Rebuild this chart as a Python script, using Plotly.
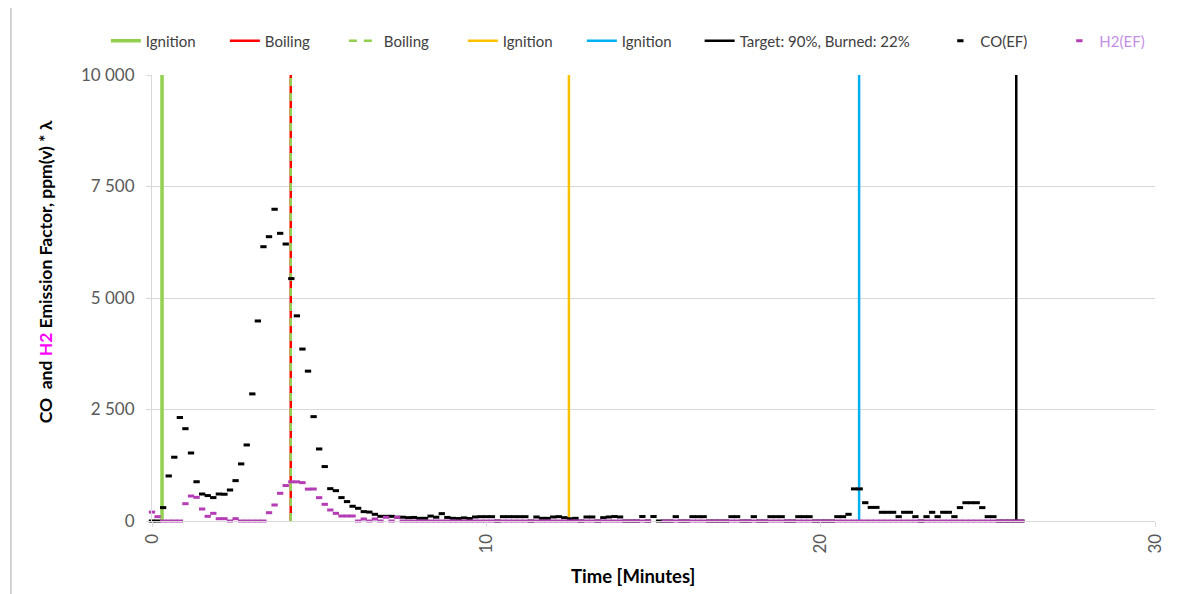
import plotly.graph_objects as go

# ---- data ----
time_s = [0, 10, 20, 30, 40, 50, 60, 70, 80, 90, 100, 110, 120, 130, 140, 150, 160, 170, 180, 190,
          200, 210, 220, 230, 240, 250, 260, 270, 280, 290, 300, 310, 320, 330, 340, 350, 360, 370, 380, 390,
          400, 410, 420, 430, 440, 450, 460, 470, 480, 490, 500, 510, 520, 530, 540, 550, 560, 570, 580, 590,
          600, 610, 620, 630, 640, 650, 660, 670, 680, 690, 700, 710, 720, 730, 740, 750, 760, 770, 780, 790,
          800, 810, 820, 830, 840, 850, 860, 870, 880, 890, 900, 910, 920, 930, 940, 950, 960, 970, 980, 990,
          1000, 1010, 1020, 1030, 1040, 1050, 1060, 1070, 1080, 1090, 1100, 1110, 1120, 1130, 1140, 1150, 1160, 1170, 1180, 1190,
          1200, 1210, 1220, 1230, 1240, 1250, 1260, 1270, 1280, 1290, 1300, 1310, 1320, 1330, 1340, 1350, 1360, 1370, 1380, 1390,
          1400, 1410, 1420, 1430, 1440, 1450, 1460, 1470, 1480, 1490, 1500, 1510, 1520, 1530, 1540, 1550, 1560]

co_ef = [0, 0, 300, 1010, 1430, 2320, 2070, 1525, 880, 605,
         570, 525, 605, 600, 695, 905, 1280, 1705, 2850, 4485,
         6150, 6375, 6990, 6450, 6210, 5435, 4600, 3855, 3360, 2340,
         1615, 1220, 725, 680, 525, 435, 330, 285, 210, 200,
         150, 105, 105, 105, 85, 85, 75, 80, 60, 60,
         110, 85, 165, 80, 60, 55, 70, 55, 90, 97,
         97, 97, 0, 97, 97, 97, 97, 97, 0, 90,
         60, 60, 90, 97, 75, 50, 60, 0, 90, 90,
         0, 75, 90, 100, 90, 0, 0, 0, 100, 0,
         100, 0, 0, 0, 97, 0, 0, 97, 97, 97,
         0, 0, 0, 0, 97, 97, 0, 0, 97, 0,
         0, 97, 97, 97, 0, 0, 97, 97, 97, 0,
         0, 0, 0, 97, 97, 150, 720, 720, 410, 305,
         305, 195, 195, 195, 97, 195, 195, 97, 0, 97,
         195, 97, 195, 195, 97, 300, 410, 410, 410, 300,
         97, 97, 0, 0, 0, 0, 0]

h2_ef = [200, 97, 0, 0, 0, 0, 388, 560, 530, 269,
         105, 172, 52, 52, 0, 52, 0, 0, 0, 0,
         0, 186, 359, 621, 795, 878, 878, 860, 715, 717,
         523, 374, 247, 172, 112, 112, 112, 0, 45, 0,
         45, 0, 83, 0, 83, 0, 0, 0, 0, 0,
         0, 0, 0, 0, 0, 0, 0, 0, 0, 0,
         0, 0, 0, 0, 0, 0, 0, 0, 0, 0,
         0, 0, 0, 0, 0, 0, 0, 0, 0, 0,
         0, 0, 0, 0, 0, 0, 0, 0, 0, 0,
         None, None, 0, 0, 0, 0, 0, 0, 0, 0,
         0, 0, 0, 0, 0, 0, 0, 0, 0, 0,
         0, 0, 0, 0, 0, 0, 0, 0, 0, 0,
         0, 0, 0, 0, 0, 0, 0, 0, 0, 0,
         0, 0, 0, 0, 0, 0, 0, 0, 0, 0,
         0, 0, 0, 0, 0, 0, 0, 0, 0, 0,
         0, 0, 0, 0, 0, 0, 0]

# event markers (minutes)
event_names = ["Ignition", "Boiling", "Boiling", "Ignition", "Ignition", "Target: 90%, Burned: 22%"]
event_times = [0.30, 4.15, 4.15, 12.47, 21.15, 25.85]
event_colors = ["#92D050", "#FF0000", "#92D050", "#FFC000", "#00B0F0", "#000000"]
event_dash = ["solid", "solid", "8px,7px", "solid", "solid", "solid"]
event_width = [3.5, 2.5, 2.5, 2.5, 2.5, 2.5]
event_legend = ["legend", "legend", "legend", "legend", "legend", "legend2"]

y_max = 10000
y_ticks = [0, 2500, 5000, 7500, 10000]
y_ticktext = ["0", "2 500", "5 000", "7 500", "10 000"]
x_ticks = [0, 10, 20, 30]

time_min = [s / 60 for s in time_s]

FONT = "Lato"
fig = go.Figure()

for name, t, c, d, w, lg in zip(event_names, event_times, event_colors, event_dash, event_width, event_legend):
    fig.add_trace(go.Scatter(
        x=[t, t], y=[0, y_max], mode="lines", name=name,
        line=dict(color=c, width=w, dash=d), legend=lg, hoverinfo="skip"))

fig.add_trace(go.Scatter(
    x=time_min, y=co_ef, mode="markers", name="CO(EF)", legend="legend3",
    marker=dict(symbol="line-ew", size=4.5, color="black", line=dict(width=3, color="black")),
    cliponaxis=False))
fig.add_trace(go.Scatter(
    x=time_min, y=h2_ef, mode="markers", name="<span style='color:#C48FE6'>H2(EF)</span>",
    legend="legend3",
    marker=dict(symbol="line-ew", size=4.5, color="#B43CB4", line=dict(width=3, color="#B43CB4")),
    cliponaxis=False))

legend_common = dict(orientation="h", font=dict(family=FONT, size=15, color="#404040"),
                     bgcolor="rgba(0,0,0,0)", yanchor="middle", y=1.076, xanchor="left",
                     itemclick=False, itemdoubleclick=False)

fig.update_layout(
    width=1192, height=586,
    margin=dict(l=144, r=45, t=67, b=73),
    paper_bgcolor="white", plot_bgcolor="white",
    font=dict(family=FONT, color="#595959"),
    showlegend=True,
    legend=dict(**legend_common, x=-0.046, entrywidth=74),
    legend2=dict(**legend_common, x=0.546),
    legend3=dict(**legend_common, x=0.786, entrywidth=74),
    xaxis=dict(range=[0, 30], tickvals=x_ticks, tickangle=-90, showgrid=False, zeroline=False,
               showline=True, linecolor="#D9D9D9", linewidth=1, ticks="outside", ticklen=5,
               tickcolor="#D9D9D9", tickfont=dict(family=FONT, size=17, color="#595959")),
    yaxis=dict(range=[0, y_max], tickvals=y_ticks, ticktext=y_ticktext, showgrid=True,
               gridcolor="#D9D9D9", gridwidth=1, zeroline=False, showline=True, linecolor="#D9D9D9",
               ticks="outside", ticklen=5, tickcolor="#D9D9D9", ticklabelstandoff=8,
               tickfont=dict(family=FONT, size=17, color="#595959")),
    annotations=[
        dict(text="<b>CO  and <span style='color:#FF00FF'>H2</span> Emission Factor, ppm(v) * λ</b>",
             xref="paper", yref="paper", x=-0.1067, y=0.56, textangle=-90, showarrow=False,
             font=dict(family=FONT, size=17.5, color="#000000"), xanchor="center", yanchor="middle"),
        dict(text="<b>Time [Minutes]</b>", xref="paper", yref="paper", x=0.4796, y=-0.123,
             showarrow=False, font=dict(family=FONT, size=18.5, color="#000000"),
             xanchor="center", yanchor="middle"),
    ],
    shapes=[dict(type="line", xref="paper", yref="paper", x0=-0.1406, x1=-0.1406,
                 y0=-0.17, y1=1.17, line=dict(color="#A6A6A6", width=1))],
)

fig.write_html("out.html")
